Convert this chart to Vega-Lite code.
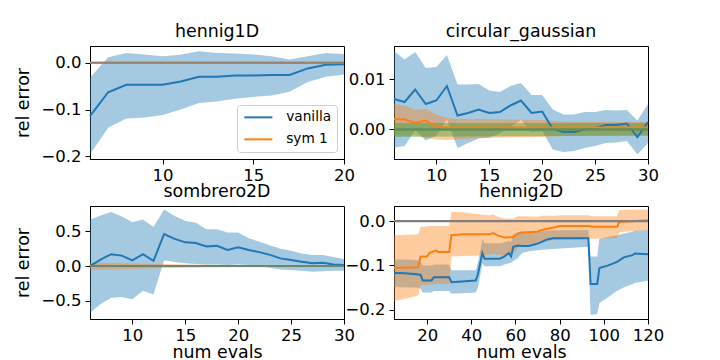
{
"$schema": "https://vega.github.io/schema/vega-lite/v6.json",
"padding": {"left": 14, "top": 22, "right": 5, "bottom": 2},
"background": "white",
"config": {
  "font": "DejaVu Sans",
  "view": {"stroke": "black", "strokeWidth": 1},
  "title": {"font": "DejaVu Sans", "fontSize": 17.4, "fontWeight": "normal", "color": "black", "anchor": "middle", "offset": 6, "baseline": "alphabetic"}
},
"datasets": {"d": [
{"p":"hennig1D","s":"vanilla","x":6,"m":-0.114,"lo":-0.196,"hi":-0.032},
{"p":"hennig1D","s":"vanilla","x":7,"m":-0.063,"lo":-0.139,"hi":0.012},
{"p":"hennig1D","s":"vanilla","x":8,"m":-0.047,"lo":-0.119,"hi":0.021},
{"p":"hennig1D","s":"vanilla","x":9,"m":-0.047,"lo":-0.117,"hi":0.018},
{"p":"hennig1D","s":"vanilla","x":10,"m":-0.047,"lo":-0.112,"hi":0.014},
{"p":"hennig1D","s":"vanilla","x":11,"m":-0.040,"lo":-0.100,"hi":0.017},
{"p":"hennig1D","s":"vanilla","x":12,"m":-0.030,"lo":-0.086,"hi":0.025},
{"p":"hennig1D","s":"vanilla","x":13,"m":-0.030,"lo":-0.083,"hi":0.021},
{"p":"hennig1D","s":"vanilla","x":14,"m":-0.027,"lo":-0.077,"hi":0.020},
{"p":"hennig1D","s":"vanilla","x":15,"m":-0.027,"lo":-0.073,"hi":0.018},
{"p":"hennig1D","s":"vanilla","x":16,"m":-0.026,"lo":-0.070,"hi":0.014},
{"p":"hennig1D","s":"vanilla","x":17,"m":-0.026,"lo":-0.062,"hi":0.007},
{"p":"hennig1D","s":"vanilla","x":18,"m":-0.012,"lo":-0.041,"hi":0.014},
{"p":"hennig1D","s":"vanilla","x":19,"m":-0.004,"lo":-0.030,"hi":0.021},
{"p":"hennig1D","s":"vanilla","x":20,"m":-0.003,"lo":-0.025,"hi":0.019},
{"p":"hennig1D","s":"sym 1","x":6,"m":0,"lo":0,"hi":0},
{"p":"hennig1D","s":"sym 1","x":20,"m":0,"lo":0,"hi":0},
{"p":"circular_gaussian","s":"vanilla","x":6,"m":0.0061,"lo":-0.0036,"hi":0.0157},
{"p":"circular_gaussian","s":"vanilla","x":7,"m":0.0055,"lo":-0.0033,"hi":0.0140},
{"p":"circular_gaussian","s":"vanilla","x":8,"m":0.0080,"lo":-0.0001,"hi":0.0155},
{"p":"circular_gaussian","s":"vanilla","x":9,"m":0.0051,"lo":-0.0022,"hi":0.0123},
{"p":"circular_gaussian","s":"vanilla","x":10,"m":0.0058,"lo":-0.0012,"hi":0.0125},
{"p":"circular_gaussian","s":"vanilla","x":11,"m":0.0087,"lo":0.0020,"hi":0.0149},
{"p":"circular_gaussian","s":"vanilla","x":12,"m":0.0028,"lo":-0.0037,"hi":0.0090},
{"p":"circular_gaussian","s":"vanilla","x":13,"m":0.0033,"lo":-0.0027,"hi":0.0090},
{"p":"circular_gaussian","s":"vanilla","x":14,"m":0.0040,"lo":-0.0018,"hi":0.0091},
{"p":"circular_gaussian","s":"vanilla","x":15,"m":0.0033,"lo":-0.0016,"hi":0.0078},
{"p":"circular_gaussian","s":"vanilla","x":16,"m":0.0035,"lo":-0.0008,"hi":0.0075},
{"p":"circular_gaussian","s":"vanilla","x":17,"m":0.0048,"lo":0.0005,"hi":0.0087},
{"p":"circular_gaussian","s":"vanilla","x":18,"m":0.0058,"lo":0.0019,"hi":0.0093},
{"p":"circular_gaussian","s":"vanilla","x":19,"m":0.0033,"lo":-0.0005,"hi":0.0069},
{"p":"circular_gaussian","s":"vanilla","x":20,"m":0.0036,"lo":-0.0003,"hi":0.0069},
{"p":"circular_gaussian","s":"vanilla","x":21,"m":0.0001,"lo":-0.0040,"hi":0.0040},
{"p":"circular_gaussian","s":"vanilla","x":22,"m":-0.0005,"lo":-0.0045,"hi":0.0030},
{"p":"circular_gaussian","s":"vanilla","x":23,"m":-0.0005,"lo":-0.0043,"hi":0.0030},
{"p":"circular_gaussian","s":"vanilla","x":24,"m":0.0000,"lo":-0.0037,"hi":0.0035},
{"p":"circular_gaussian","s":"vanilla","x":25,"m":0.0003,"lo":-0.0033,"hi":0.0035},
{"p":"circular_gaussian","s":"vanilla","x":26,"m":0.0009,"lo":-0.0027,"hi":0.0039},
{"p":"circular_gaussian","s":"vanilla","x":27,"m":0.0009,"lo":-0.0026,"hi":0.0038},
{"p":"circular_gaussian","s":"vanilla","x":28,"m":0.0012,"lo":-0.0023,"hi":0.0039},
{"p":"circular_gaussian","s":"vanilla","x":29,"m":-0.0015,"lo":-0.0050,"hi":0.0018},
{"p":"circular_gaussian","s":"vanilla","x":30,"m":0.0015,"lo":-0.0027,"hi":0.0051},
{"p":"circular_gaussian","s":"sym 1","x":6,"m":0.0021,"lo":-0.0012,"hi":0.0051},
{"p":"circular_gaussian","s":"sym 1","x":7,"m":0.0020,"lo":-0.0013,"hi":0.0048},
{"p":"circular_gaussian","s":"sym 1","x":8,"m":0.0013,"lo":-0.0012,"hi":0.0039},
{"p":"circular_gaussian","s":"sym 1","x":9,"m":0.0018,"lo":-0.0017,"hi":0.0041},
{"p":"circular_gaussian","s":"sym 1","x":10,"m":0.0005,"lo":-0.0020,"hi":0.0030},
{"p":"circular_gaussian","s":"sym 1","x":11,"m":0.0004,"lo":-0.0021,"hi":0.0023},
{"p":"circular_gaussian","s":"sym 1","x":12,"m":0.0004,"lo":-0.0020,"hi":0.0021},
{"p":"circular_gaussian","s":"sym 1","x":14,"m":0.0004,"lo":-0.0017,"hi":0.0021},
{"p":"circular_gaussian","s":"sym 1","x":17,"m":0.0004,"lo":-0.0016,"hi":0.0020},
{"p":"circular_gaussian","s":"sym 1","x":20,"m":0.0004,"lo":-0.0015,"hi":0.0019},
{"p":"circular_gaussian","s":"sym 1","x":22,"m":0.0004,"lo":-0.0013,"hi":0.0016},
{"p":"circular_gaussian","s":"sym 1","x":30,"m":0.0004,"lo":-0.0013,"hi":0.0015},
{"p":"circular_gaussian","s":"sym 2","x":6,"m":0,"lo":-0.0015,"hi":0.0013},
{"p":"circular_gaussian","s":"sym 2","x":30,"m":0,"lo":-0.0012,"hi":0.0013},
{"p":"sombrero2D","s":"vanilla","x":6,"m":0.000,"lo":-0.675,"hi":0.665},
{"p":"sombrero2D","s":"vanilla","x":7,"m":0.092,"lo":-0.545,"hi":0.725},
{"p":"sombrero2D","s":"vanilla","x":8,"m":0.170,"lo":-0.455,"hi":0.775},
{"p":"sombrero2D","s":"vanilla","x":9,"m":0.150,"lo":-0.445,"hi":0.710},
{"p":"sombrero2D","s":"vanilla","x":10,"m":0.082,"lo":-0.478,"hi":0.630},
{"p":"sombrero2D","s":"vanilla","x":11,"m":0.170,"lo":-0.355,"hi":0.670},
{"p":"sombrero2D","s":"vanilla","x":12,"m":0.075,"lo":-0.410,"hi":0.560},
{"p":"sombrero2D","s":"vanilla","x":13,"m":0.460,"lo":0.085,"hi":0.810},
{"p":"sombrero2D","s":"vanilla","x":14,"m":0.390,"lo":0.058,"hi":0.720},
{"p":"sombrero2D","s":"vanilla","x":15,"m":0.340,"lo":0.039,"hi":0.645},
{"p":"sombrero2D","s":"vanilla","x":16,"m":0.330,"lo":0.029,"hi":0.620},
{"p":"sombrero2D","s":"vanilla","x":17,"m":0.280,"lo":0.024,"hi":0.530},
{"p":"sombrero2D","s":"vanilla","x":18,"m":0.290,"lo":0.024,"hi":0.530},
{"p":"sombrero2D","s":"vanilla","x":19,"m":0.230,"lo":0.015,"hi":0.480},
{"p":"sombrero2D","s":"vanilla","x":20,"m":0.270,"lo":0.024,"hi":0.480},
{"p":"sombrero2D","s":"vanilla","x":21,"m":0.230,"lo":0.015,"hi":0.400},
{"p":"sombrero2D","s":"vanilla","x":22,"m":0.200,"lo":0.000,"hi":0.350},
{"p":"sombrero2D","s":"vanilla","x":23,"m":0.160,"lo":-0.024,"hi":0.300},
{"p":"sombrero2D","s":"vanilla","x":24,"m":0.110,"lo":-0.049,"hi":0.250},
{"p":"sombrero2D","s":"vanilla","x":25,"m":0.087,"lo":-0.058,"hi":0.220},
{"p":"sombrero2D","s":"vanilla","x":26,"m":0.063,"lo":-0.068,"hi":0.180},
{"p":"sombrero2D","s":"vanilla","x":27,"m":0.039,"lo":-0.083,"hi":0.160},
{"p":"sombrero2D","s":"vanilla","x":28,"m":0.049,"lo":-0.073,"hi":0.160},
{"p":"sombrero2D","s":"vanilla","x":29,"m":0.024,"lo":-0.068,"hi":0.130},
{"p":"sombrero2D","s":"vanilla","x":30,"m":0.015,"lo":-0.068,"hi":0.100},
{"p":"sombrero2D","s":"sym 1","x":6,"m":0,"lo":-0.058,"hi":0.050},
{"p":"sombrero2D","s":"sym 1","x":10,"m":0,"lo":-0.040,"hi":0.035},
{"p":"sombrero2D","s":"sym 1","x":15,"m":0,"lo":-0.025,"hi":0.022},
{"p":"sombrero2D","s":"sym 1","x":20,"m":0,"lo":-0.018,"hi":0.015},
{"p":"sombrero2D","s":"sym 1","x":30,"m":0,"lo":-0.012,"hi":0.010},
{"p":"sombrero2D","s":"sym 2","x":6,"m":0,"lo":-0.010,"hi":0.010},
{"p":"sombrero2D","s":"sym 2","x":30,"m":0,"lo":-0.008,"hi":0.008},
{"p":"hennig2D","s":"vanilla","x":5,"m":-0.117,"lo":-0.149,"hi":-0.087},
{"p":"hennig2D","s":"vanilla","x":10,"m":-0.118,"lo":-0.150,"hi":-0.087},
{"p":"hennig2D","s":"vanilla","x":15,"m":-0.120,"lo":-0.150,"hi":-0.088},
{"p":"hennig2D","s":"vanilla","x":17,"m":-0.121,"lo":-0.152,"hi":-0.090},
{"p":"hennig2D","s":"vanilla","x":18,"m":-0.134,"lo":-0.161,"hi":-0.100},
{"p":"hennig2D","s":"vanilla","x":22,"m":-0.134,"lo":-0.161,"hi":-0.100},
{"p":"hennig2D","s":"vanilla","x":23,"m":-0.127,"lo":-0.158,"hi":-0.098},
{"p":"hennig2D","s":"vanilla","x":30,"m":-0.127,"lo":-0.158,"hi":-0.098},
{"p":"hennig2D","s":"vanilla","x":31,"m":-0.138,"lo":-0.164,"hi":-0.111},
{"p":"hennig2D","s":"vanilla","x":42,"m":-0.134,"lo":-0.161,"hi":-0.111},
{"p":"hennig2D","s":"vanilla","x":43,"m":-0.120,"lo":-0.150,"hi":-0.095},
{"p":"hennig2D","s":"vanilla","x":45,"m":-0.072,"lo":-0.096,"hi":-0.040},
{"p":"hennig2D","s":"vanilla","x":46,"m":-0.085,"lo":-0.102,"hi":-0.050},
{"p":"hennig2D","s":"vanilla","x":53,"m":-0.085,"lo":-0.102,"hi":-0.050},
{"p":"hennig2D","s":"vanilla","x":55,"m":-0.080,"lo":-0.098,"hi":-0.048},
{"p":"hennig2D","s":"vanilla","x":57,"m":-0.072,"lo":-0.095,"hi":-0.045},
{"p":"hennig2D","s":"vanilla","x":58,"m":-0.080,"lo":-0.094,"hi":-0.048},
{"p":"hennig2D","s":"vanilla","x":59,"m":-0.058,"lo":-0.090,"hi":-0.030},
{"p":"hennig2D","s":"vanilla","x":61,"m":-0.055,"lo":-0.084,"hi":-0.028},
{"p":"hennig2D","s":"vanilla","x":63,"m":-0.056,"lo":-0.072,"hi":-0.027},
{"p":"hennig2D","s":"vanilla","x":66,"m":-0.056,"lo":-0.068,"hi":-0.027},
{"p":"hennig2D","s":"vanilla","x":70,"m":-0.051,"lo":-0.066,"hi":-0.025},
{"p":"hennig2D","s":"vanilla","x":72,"m":-0.047,"lo":-0.065,"hi":-0.024},
{"p":"hennig2D","s":"vanilla","x":74,"m":-0.042,"lo":-0.064,"hi":-0.022},
{"p":"hennig2D","s":"vanilla","x":77,"m":-0.039,"lo":-0.063,"hi":-0.021},
{"p":"hennig2D","s":"vanilla","x":93,"m":-0.039,"lo":-0.058,"hi":-0.020},
{"p":"hennig2D","s":"vanilla","x":94,"m":-0.142,"lo":-0.212,"hi":-0.080},
{"p":"hennig2D","s":"vanilla","x":97,"m":-0.142,"lo":-0.210,"hi":-0.080},
{"p":"hennig2D","s":"vanilla","x":98,"m":-0.106,"lo":-0.185,"hi":-0.040},
{"p":"hennig2D","s":"vanilla","x":102,"m":-0.100,"lo":-0.172,"hi":-0.036},
{"p":"hennig2D","s":"vanilla","x":106,"m":-0.092,"lo":-0.157,"hi":-0.032},
{"p":"hennig2D","s":"vanilla","x":109,"m":-0.082,"lo":-0.150,"hi":-0.028},
{"p":"hennig2D","s":"vanilla","x":113,"m":-0.077,"lo":-0.142,"hi":-0.024},
{"p":"hennig2D","s":"vanilla","x":114,"m":-0.073,"lo":-0.140,"hi":-0.022},
{"p":"hennig2D","s":"vanilla","x":120,"m":-0.075,"lo":-0.134,"hi":-0.020},
{"p":"hennig2D","s":"sym 1","x":5,"m":-0.106,"lo":-0.181,"hi":-0.032},
{"p":"hennig2D","s":"sym 1","x":16,"m":-0.104,"lo":-0.168,"hi":-0.030},
{"p":"hennig2D","s":"sym 1","x":17,"m":-0.080,"lo":-0.144,"hi":-0.013},
{"p":"hennig2D","s":"sym 1","x":20,"m":-0.080,"lo":-0.144,"hi":-0.012},
{"p":"hennig2D","s":"sym 1","x":21,"m":-0.072,"lo":-0.143,"hi":-0.011},
{"p":"hennig2D","s":"sym 1","x":24,"m":-0.066,"lo":-0.142,"hi":-0.011},
{"p":"hennig2D","s":"sym 1","x":25,"m":-0.070,"lo":-0.142,"hi":-0.011},
{"p":"hennig2D","s":"sym 1","x":30,"m":-0.070,"lo":-0.142,"hi":-0.011},
{"p":"hennig2D","s":"sym 1","x":31,"m":-0.032,"lo":-0.080,"hi":0.021},
{"p":"hennig2D","s":"sym 1","x":36,"m":-0.030,"lo":-0.079,"hi":0.020},
{"p":"hennig2D","s":"sym 1","x":42,"m":-0.030,"lo":-0.078,"hi":0.016},
{"p":"hennig2D","s":"sym 1","x":48,"m":-0.030,"lo":-0.076,"hi":0.013},
{"p":"hennig2D","s":"sym 1","x":50,"m":-0.027,"lo":-0.074,"hi":0.015},
{"p":"hennig2D","s":"sym 1","x":52,"m":-0.033,"lo":-0.076,"hi":0.010},
{"p":"hennig2D","s":"sym 1","x":55,"m":-0.037,"lo":-0.077,"hi":0.006},
{"p":"hennig2D","s":"sym 1","x":59,"m":-0.036,"lo":-0.075,"hi":0.005},
{"p":"hennig2D","s":"sym 1","x":61,"m":-0.028,"lo":-0.060,"hi":0.011},
{"p":"hennig2D","s":"sym 1","x":63,"m":-0.026,"lo":-0.055,"hi":0.011},
{"p":"hennig2D","s":"sym 1","x":70,"m":-0.024,"lo":-0.050,"hi":0.010},
{"p":"hennig2D","s":"sym 1","x":72,"m":-0.020,"lo":-0.048,"hi":0.012},
{"p":"hennig2D","s":"sym 1","x":74,"m":-0.018,"lo":-0.045,"hi":0.012},
{"p":"hennig2D","s":"sym 1","x":78,"m":-0.014,"lo":-0.043,"hi":0.012},
{"p":"hennig2D","s":"sym 1","x":80,"m":-0.011,"lo":-0.042,"hi":0.013},
{"p":"hennig2D","s":"sym 1","x":93,"m":-0.011,"lo":-0.040,"hi":0.013},
{"p":"hennig2D","s":"sym 1","x":95,"m":-0.013,"lo":-0.040,"hi":0.011},
{"p":"hennig2D","s":"sym 1","x":106,"m":-0.013,"lo":-0.038,"hi":0.011},
{"p":"hennig2D","s":"sym 1","x":107,"m":-0.002,"lo":-0.025,"hi":0.025},
{"p":"hennig2D","s":"sym 1","x":120,"m":0.002,"lo":-0.020,"hi":0.026}
]},
"bounds": "flush",
"spacing": {"row": 47, "column": 50},
"columns": 2,
"resolve": {"scale": {"x": "independent", "y": "independent"}, "legend": {"stroke": "independent"}},
"concat": [
{
 "title": "hennig1D",
 "width": 254, "height": 113,
 "layer": [
  {"data": {"name": "d"}, "transform": [{"filter": "datum.p === 'hennig1D'"}],
   "mark": {"type": "area", "opacity": 0.4},
   "encoding": {
    "x": {"field": "x", "type": "quantitative", "scale": {"domain": [6, 20], "nice": false}, "axis": {"values": [10, 15, 20], "title": null, "labelFontSize": 16.5, "labelFont": "DejaVu Sans", "labelColor": "black", "tickColor": "black", "tickSize": 5, "domainColor": "black", "labelPadding": 3, "grid": false, "labelFlush": false}},
    "y": {"field": "lo", "type": "quantitative", "scale": {"domain": [-0.206, 0.036], "nice": false, "zero": false}, "axis": {"values": [-0.2, -0.1, 0], "format": ".1f", "title": "rel error", "labelFontSize": 16.5, "labelFont": "DejaVu Sans", "labelColor": "black", "tickColor": "black", "tickSize": 5, "domainColor": "black", "labelPadding": 4, "grid": false, "labelFlush": false, "titleFontSize": 17.4, "titleFont": "DejaVu Sans", "titleFontWeight": "normal", "titleColor": "black", "titlePadding": 8}},
    "y2": {"field": "hi"},
    "fill": {"field": "s", "type": "nominal", "scale": {"domain": ["vanilla", "sym 1", "sym 2"], "range": ["#1f77b4", "#ff7f0e", "#2ca02c"]}, "legend": null}
   }},
  {"data": {"name": "d"}, "transform": [{"filter": "datum.p === 'hennig1D'"}],
   "mark": {"type": "line", "strokeWidth": 2},
   "encoding": {
    "x": {"field": "x", "type": "quantitative"},
    "y": {"field": "m", "type": "quantitative"},
    "stroke": {"field": "s", "type": "nominal", "scale": {"domain": ["vanilla", "sym 1", "sym 2"], "range": ["#1f77b4", "#ff7f0e", "#2ca02c"]},
     "legend": {"orient": "bottom-right", "offset": 7, "values": ["vanilla", "sym 1"], "title": null, "symbolType": "M-1,0H4.6", "symbolSize": 100, "symbolStrokeWidth": 2, "labelFontSize": 13.7, "labelFont": "DejaVu Sans", "labelColor": "black", "labelOffset": 30, "padding": 5.5, "rowPadding": 7, "fillColor": "rgba(255,255,255,0.8)", "strokeColor": "#cccccc", "cornerRadius": 3}}
   }},
  {"data": {"values": [{"z": 0}]},
   "mark": {"type": "rule", "color": "#7f7f7f", "strokeWidth": 2, "opacity": 0.8},
   "encoding": {"y": {"field": "z", "type": "quantitative"}}}
 ]
},
{
 "title": "circular_gaussian",
 "width": 254, "height": 113,
 "layer": [
  {"data": {"name": "d"}, "transform": [{"filter": "datum.p === 'circular_gaussian'"}],
   "mark": {"type": "area", "opacity": 0.4},
   "encoding": {
    "x": {"field": "x", "type": "quantitative", "scale": {"domain": [6, 30], "nice": false}, "axis": {"values": [10, 15, 20, 25, 30], "title": null, "labelFontSize": 16.5, "labelFont": "DejaVu Sans", "labelColor": "black", "tickColor": "black", "tickSize": 5, "domainColor": "black", "labelPadding": 3, "grid": false, "labelFlush": false}},
    "y": {"field": "lo", "type": "quantitative", "scale": {"domain": [-0.0059, 0.0167], "nice": false, "zero": false}, "axis": {"values": [0, 0.01], "format": ".2f", "title": null, "labelFontSize": 16.5, "labelFont": "DejaVu Sans", "labelColor": "black", "tickColor": "black", "tickSize": 5, "domainColor": "black", "labelPadding": 4, "grid": false, "labelFlush": false}},
    "y2": {"field": "hi"},
    "fill": {"field": "s", "type": "nominal", "scale": {"domain": ["vanilla", "sym 1", "sym 2"], "range": ["#1f77b4", "#ff7f0e", "#2ca02c"]}, "legend": null}
   }},
  {"data": {"name": "d"}, "transform": [{"filter": "datum.p === 'circular_gaussian'"}],
   "mark": {"type": "line", "strokeWidth": 2},
   "encoding": {
    "x": {"field": "x", "type": "quantitative"},
    "y": {"field": "m", "type": "quantitative"},
    "stroke": {"field": "s", "type": "nominal", "scale": {"domain": ["vanilla", "sym 1", "sym 2"], "range": ["#1f77b4", "#ff7f0e", "#2ca02c"]}, "legend": null}
   }},
  {"data": {"values": [{"z": 0}]},
   "mark": {"type": "rule", "color": "#7f7f7f", "strokeWidth": 2, "opacity": 0.8},
   "encoding": {"y": {"field": "z", "type": "quantitative"}}}
 ]
},
{
 "title": "sombrero2D",
 "width": 254, "height": 113,
 "layer": [
  {"data": {"name": "d"}, "transform": [{"filter": "datum.p === 'sombrero2D'"}],
   "mark": {"type": "area", "opacity": 0.4},
   "encoding": {
    "x": {"field": "x", "type": "quantitative", "scale": {"domain": [6, 30], "nice": false}, "axis": {"values": [10, 15, 20, 25, 30], "title": "num evals", "labelFontSize": 16.5, "labelFont": "DejaVu Sans", "labelColor": "black", "tickColor": "black", "tickSize": 5, "domainColor": "black", "labelPadding": 3, "grid": false, "labelFlush": false, "titleFontSize": 17.4, "titleFont": "DejaVu Sans", "titleFontWeight": "normal", "titleColor": "black", "titlePadding": 0}},
    "y": {"field": "lo", "type": "quantitative", "scale": {"domain": [-0.76, 0.862], "nice": false, "zero": false}, "axis": {"values": [-0.5, 0, 0.5], "format": ".1f", "title": "rel error", "labelFontSize": 16.5, "labelFont": "DejaVu Sans", "labelColor": "black", "tickColor": "black", "tickSize": 5, "domainColor": "black", "labelPadding": 4, "grid": false, "labelFlush": false, "titleFontSize": 17.4, "titleFont": "DejaVu Sans", "titleFontWeight": "normal", "titleColor": "black", "titlePadding": 8}},
    "y2": {"field": "hi"},
    "fill": {"field": "s", "type": "nominal", "scale": {"domain": ["vanilla", "sym 1", "sym 2"], "range": ["#1f77b4", "#ff7f0e", "#2ca02c"]}, "legend": null}
   }},
  {"data": {"name": "d"}, "transform": [{"filter": "datum.p === 'sombrero2D'"}],
   "mark": {"type": "line", "strokeWidth": 2},
   "encoding": {
    "x": {"field": "x", "type": "quantitative"},
    "y": {"field": "m", "type": "quantitative"},
    "stroke": {"field": "s", "type": "nominal", "scale": {"domain": ["vanilla", "sym 1", "sym 2"], "range": ["#1f77b4", "#ff7f0e", "#2ca02c"]}, "legend": null}
   }},
  {"data": {"values": [{"z": 0}]},
   "mark": {"type": "rule", "color": "#7f7f7f", "strokeWidth": 2, "opacity": 0.8},
   "encoding": {"y": {"field": "z", "type": "quantitative"}}}
 ]
},
{
 "title": "hennig2D",
 "width": 254, "height": 113,
 "layer": [
  {"data": {"name": "d"}, "transform": [{"filter": "datum.p === 'hennig2D'"}],
   "mark": {"type": "area", "opacity": 0.4},
   "encoding": {
    "x": {"field": "x", "type": "quantitative", "scale": {"domain": [5, 120], "nice": false}, "axis": {"values": [20, 40, 60, 80, 100, 120], "title": "num evals", "labelFontSize": 16.5, "labelFont": "DejaVu Sans", "labelColor": "black", "tickColor": "black", "tickSize": 5, "domainColor": "black", "labelPadding": 3, "grid": false, "labelFlush": false, "titleFontSize": 17.4, "titleFont": "DejaVu Sans", "titleFontWeight": "normal", "titleColor": "black", "titlePadding": 0}},
    "y": {"field": "lo", "type": "quantitative", "scale": {"domain": [-0.221, 0.034], "nice": false, "zero": false}, "axis": {"values": [-0.2, -0.1, 0], "format": ".1f", "title": null, "labelFontSize": 16.5, "labelFont": "DejaVu Sans", "labelColor": "black", "tickColor": "black", "tickSize": 5, "domainColor": "black", "labelPadding": 4, "grid": false, "labelFlush": false}},
    "y2": {"field": "hi"},
    "fill": {"field": "s", "type": "nominal", "scale": {"domain": ["vanilla", "sym 1", "sym 2"], "range": ["#1f77b4", "#ff7f0e", "#2ca02c"]}, "legend": null}
   }},
  {"data": {"name": "d"}, "transform": [{"filter": "datum.p === 'hennig2D'"}],
   "mark": {"type": "line", "strokeWidth": 2},
   "encoding": {
    "x": {"field": "x", "type": "quantitative"},
    "y": {"field": "m", "type": "quantitative"},
    "stroke": {"field": "s", "type": "nominal", "scale": {"domain": ["vanilla", "sym 1", "sym 2"], "range": ["#1f77b4", "#ff7f0e", "#2ca02c"]}, "legend": null}
   }},
  {"data": {"values": [{"z": 0}]},
   "mark": {"type": "rule", "color": "#7f7f7f", "strokeWidth": 2.2, "opacity": 1},
   "encoding": {"y": {"field": "z", "type": "quantitative"}}}
 ]
}
]
}
